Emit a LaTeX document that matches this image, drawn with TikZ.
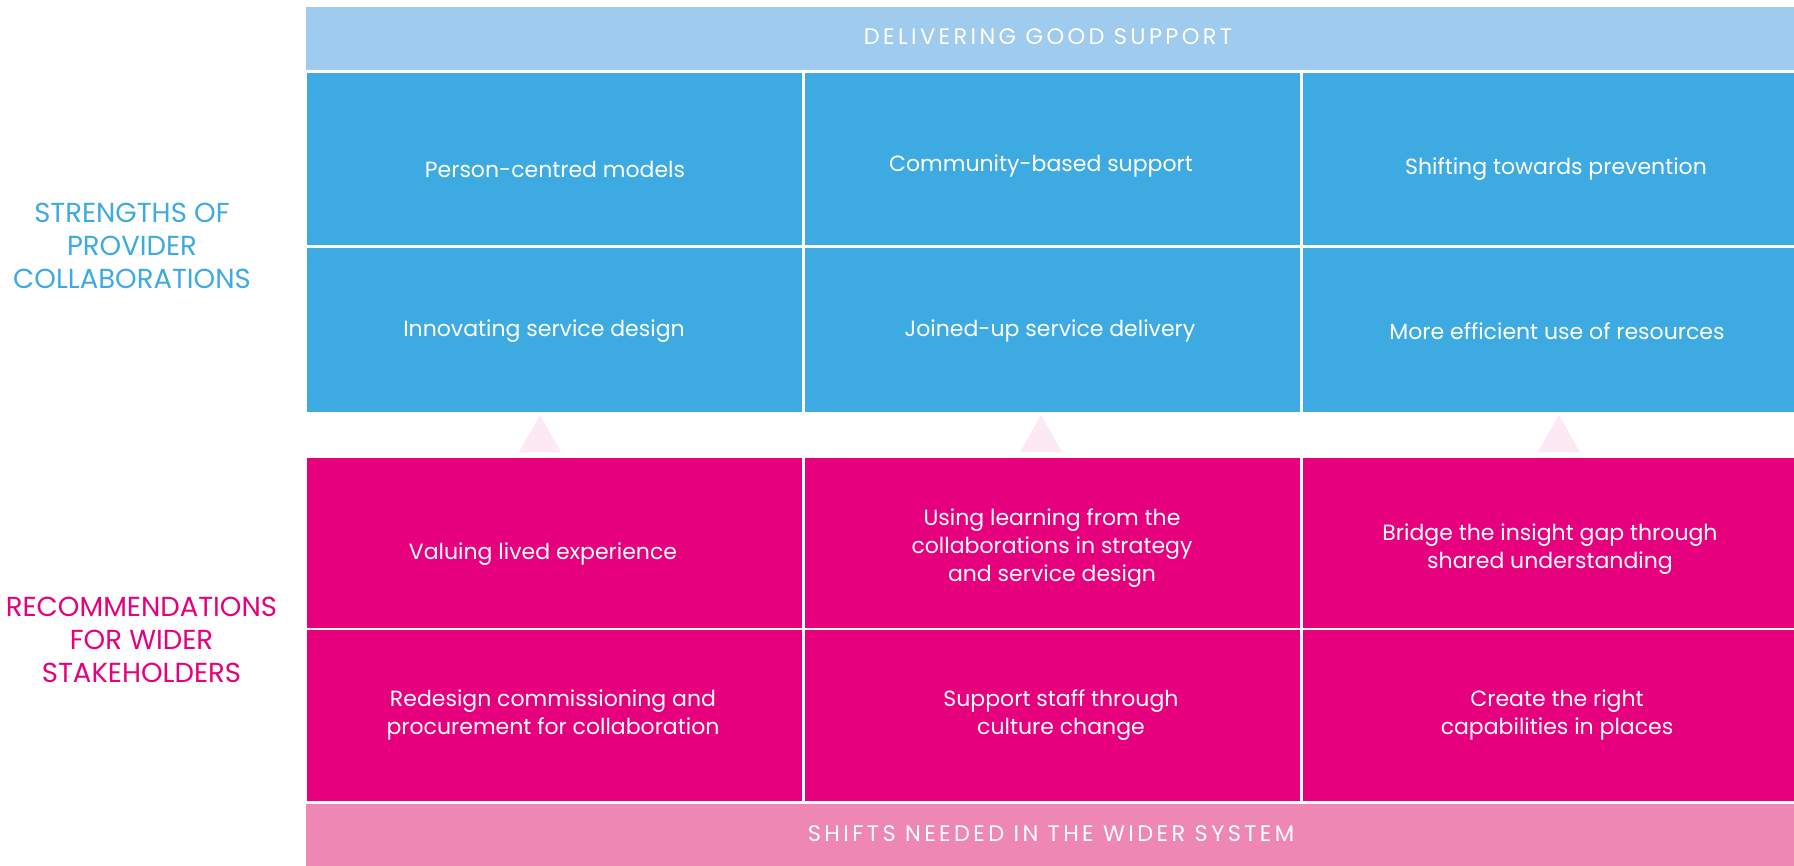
\documentclass[tikz,border=0pt]{standalone}
\usepackage{fontspec}
\setmainfont{Poppins}
\newfontfamily\spacedfont[LetterSpace=15]{Poppins}
\definecolor{barblue}{HTML}{9FCBEE}
\definecolor{cellblue}{HTML}{3DAAE1}
\definecolor{cellpink}{HTML}{E6007E}
\definecolor{barpink}{HTML}{EE87B3}
\definecolor{tripink}{HTML}{FCE9F4}
\begin{document}
\begin{tikzpicture}[x=1pt,y=-1pt,
  celltext/.style={text=white,align=center,inner sep=0pt,font=\fontsize{22}{28}\selectfont},
  bartext/.style={text=white,inner sep=0pt,font=\spacedfont\fontsize{22.5}{26}\selectfont},
  sidelabel/.style={align=center,inner sep=0pt,font=\fontsize{27.5}{33}\selectfont},
  uptri/.style={fill=tripink}]
\useasboundingbox (0,0) rectangle (1794,866);
\fill[white] (0,0) rectangle (1794,866);
% bars
\fill[barblue] (306,7) rectangle (1794,70);
\fill[barpink] (306,804) rectangle (1794,866);
% blue cells
\fill[cellblue] (307,73) rectangle (802,245);
\fill[cellblue] (805,73) rectangle (1300,245);
\fill[cellblue] (1303,73) rectangle (1794,245);
\fill[cellblue] (307,248) rectangle (802,412);
\fill[cellblue] (805,248) rectangle (1300,412);
\fill[cellblue] (1303,248) rectangle (1794,412);
% pink cells
\fill[cellpink] (307,458) rectangle (802,628);
\fill[cellpink] (805,458) rectangle (1300,628);
\fill[cellpink] (1303,458) rectangle (1794,628);
\fill[cellpink] (307,630) rectangle (802,801);
\fill[cellpink] (805,630) rectangle (1300,801);
\fill[cellpink] (1303,630) rectangle (1794,801);
% triangles
\fill[uptri] (540,415) -- (561,452) -- (519,452) -- cycle;
\fill[uptri] (1041,415) -- (1062,452) -- (1020,452) -- cycle;
\fill[uptri] (1559,415) -- (1580,452) -- (1538,452) -- cycle;
% bar texts
\node[bartext] (top) at (1048,37) {DELIVERING GOOD SUPPORT};
\node[bartext] (bottom) at (1051,834) {SHIFTS NEEDED IN THE WIDER SYSTEM};
% side labels
\node[sidelabel,text=cellblue] (strengths) at (132,245.5) {STRENGTHS OF\\PROVIDER\\COLLABORATIONS};
\node[sidelabel,text=cellpink] (recs) at (141.5,639.5) {RECOMMENDATIONS\\FOR WIDER\\STAKEHOLDERS};
% blue texts
\node[celltext] (b11) at (555,169) {Person-centred models};
\node[celltext] (b12) at (1041,166) {Community-based support};
\node[celltext] (b13) at (1556,169) {Shifting towards prevention};
\node[celltext] (b21) at (544,331) {Innovating service design};
\node[celltext] (b22) at (1050,331) {Joined-up service delivery};
\node[celltext] (b23) at (1557,331) {More efficient use of resources};
% pink texts
\node[celltext] (p11) at (543,554) {Valuing lived experience};
\node[celltext] (p12) at (1052,548) {Using learning from the\\collaborations in strategy\\and service design};
\node[celltext] (p13) at (1550,549) {Bridge the insight gap through\\shared understanding};
\node[celltext] (p21) at (553,715) {Redesign commissioning and\\procurement for collaboration};
\node[celltext] (p22) at (1061,715) {Support staff through\\culture change};
\node[celltext] (p23) at (1557,715) {Create the right\\capabilities in places};
\end{tikzpicture}
\end{document}
